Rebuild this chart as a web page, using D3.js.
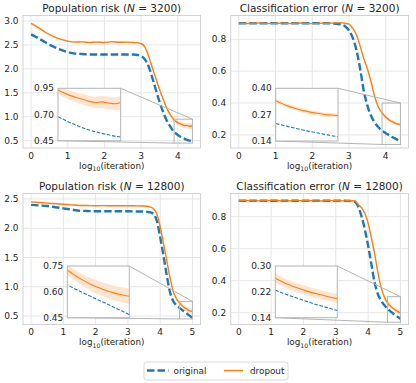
<!DOCTYPE html>
<html>
<head>
<meta charset="utf-8">
<script src="https://cdn.jsdelivr.net/npm/d3@7"></script>
<style>
  body { margin: 0; background: #fff; }
  text { font-family: "DejaVu Sans", sans-serif; fill: #262626; }
</style>
</head>
<body>
<div id="chart"></div>
<script>
// log10(iteration) grids
var xTop = [0, 0.2, 0.4, 0.6, 0.8, 1.0, 1.2, 1.4, 1.6, 1.8, 2.0, 2.2, 2.4, 2.6, 2.8,
  2.9, 3.0, 3.1, 3.2, 3.3, 3.4, 3.5, 3.6, 3.7, 3.8, 3.9,
  3.95, 4.0, 4.05, 4.1, 4.15, 4.2, 4.25, 4.3, 4.35, 4.4];
var xBottom = [0, 0.25, 0.5, 0.75, 1.0, 1.25, 1.5, 1.75, 2.0, 2.25, 2.5, 2.75, 3.0, 3.25, 3.5,
  3.6, 3.7, 3.8, 3.9, 4.0, 4.1, 4.2, 4.3, 4.4, 4.5, 4.6,
  4.65, 4.7, 4.75, 4.8, 4.85, 4.9, 4.95, 5.0];

// N = 3200
var riskOrig3200 = [2.72, 2.64, 2.55, 2.47, 2.40, 2.35, 2.32, 2.31, 2.30, 2.30, 2.30, 2.30, 2.30, 2.30, 2.30,
  2.29, 2.27, 2.20, 2.06, 1.83, 1.57, 1.32, 1.10, 0.92, 0.79, 0.68,
  0.65, 0.62, 0.595, 0.572, 0.552, 0.535, 0.52, 0.506, 0.494, 0.485];
var riskDrop3200 = [2.95, 2.86, 2.76, 2.68, 2.62, 2.58, 2.56, 2.565, 2.55, 2.56, 2.55, 2.57, 2.555, 2.56, 2.55,
  2.545, 2.53, 2.46, 2.28, 2.04, 1.81, 1.58, 1.37, 1.18, 1.04, 0.935,
  0.905, 0.88, 0.86, 0.845, 0.825, 0.815, 0.82, 0.81, 0.803, 0.812];
var riskBand3200 = [0.02, 0.02, 0.015, 0.015, 0.015, 0.015, 0.015, 0.015, 0.015, 0.015, 0.015, 0.015, 0.015, 0.015, 0.015,
  0.015, 0.015, 0.02, 0.02, 0.025, 0.025, 0.03, 0.03, 0.035, 0.035, 0.04,
  0.042, 0.045, 0.047, 0.05, 0.052, 0.055, 0.057, 0.06, 0.062, 0.065];
var errOrig3200 = [0.9, 0.9, 0.9, 0.9, 0.9, 0.9, 0.9, 0.9, 0.9, 0.9, 0.9, 0.9, 0.9, 0.898, 0.892,
  0.88, 0.855, 0.81, 0.735, 0.62, 0.48, 0.385, 0.32, 0.278, 0.248, 0.227,
  0.219, 0.211, 0.204, 0.197, 0.19, 0.184, 0.178, 0.172, 0.166, 0.161];
var errDrop3200 = [0.901, 0.899, 0.9, 0.902, 0.899, 0.9, 0.901, 0.899, 0.902, 0.9, 0.898, 0.901, 0.9, 0.902, 0.904,
  0.899, 0.895, 0.87, 0.83, 0.76, 0.68, 0.615, 0.535, 0.44, 0.375, 0.338,
  0.325, 0.312, 0.302, 0.293, 0.286, 0.28, 0.276, 0.27, 0.268, 0.265];
var errBand3200 = [0.003, 0.003, 0.003, 0.003, 0.003, 0.003, 0.003, 0.003, 0.003, 0.003, 0.003, 0.003, 0.003, 0.003, 0.003,
  0.004, 0.004, 0.005, 0.006, 0.007, 0.008, 0.008, 0.009, 0.009, 0.01, 0.01,
  0.01, 0.01, 0.01, 0.01, 0.01, 0.01, 0.01, 0.01, 0.01, 0.01];

// N = 12800
var riskOrig12800 = [2.40, 2.39, 2.38, 2.36, 2.34, 2.32, 2.30, 2.295, 2.29, 2.29, 2.29, 2.29, 2.29, 2.287, 2.285,
  2.28, 2.27, 2.24, 2.12, 1.85, 1.54, 1.21, 0.92, 0.76, 0.685, 0.64,
  0.617, 0.595, 0.574, 0.553, 0.532, 0.511, 0.49, 0.468];
var riskDrop12800 = [2.45, 2.44, 2.43, 2.42, 2.41, 2.40, 2.39, 2.388, 2.385, 2.386, 2.384, 2.385, 2.385, 2.383, 2.38,
  2.375, 2.36, 2.33, 2.24, 2.03, 1.75, 1.46, 1.17, 0.93, 0.80, 0.727,
  0.695, 0.668, 0.644, 0.625, 0.608, 0.594, 0.583, 0.574];
var riskBand12800 = [0.01, 0.01, 0.01, 0.01, 0.01, 0.01, 0.01, 0.01, 0.01, 0.01, 0.01, 0.01, 0.01, 0.01, 0.01,
  0.01, 0.012, 0.014, 0.016, 0.018, 0.02, 0.022, 0.024, 0.026, 0.028, 0.03,
  0.032, 0.034, 0.036, 0.038, 0.04, 0.042, 0.044, 0.045];
var errOrig12800 = [0.9, 0.9, 0.9, 0.9, 0.9, 0.9, 0.9, 0.9, 0.9, 0.9, 0.9, 0.9, 0.9, 0.9, 0.899,
  0.892, 0.86, 0.80, 0.72, 0.62, 0.505, 0.39, 0.318, 0.276, 0.248, 0.225,
  0.216, 0.207, 0.199, 0.191, 0.183, 0.176, 0.169, 0.162];
var errDrop12800 = [0.9, 0.901, 0.899, 0.9, 0.902, 0.9, 0.899, 0.901, 0.9, 0.9, 0.898, 0.901, 0.9, 0.899, 0.9,
  0.898, 0.875, 0.855, 0.82, 0.76, 0.67, 0.57, 0.455, 0.36, 0.30, 0.262,
  0.25, 0.24, 0.231, 0.223, 0.216, 0.21, 0.204, 0.199];
var errBand12800 = [0.003, 0.003, 0.003, 0.003, 0.003, 0.003, 0.003, 0.003, 0.003, 0.003, 0.003, 0.003, 0.003, 0.003, 0.003,
  0.004, 0.005, 0.006, 0.007, 0.008, 0.009, 0.01, 0.011, 0.012, 0.013, 0.014,
  0.014, 0.014, 0.014, 0.014, 0.014, 0.014, 0.014, 0.014];

// ticks
var iterTicksTop = [0, 1, 2, 3, 4];
var iterTicksBottom = [0, 1, 2, 3, 4, 5];
var riskTicks3200 = [0.5, 1.0, 1.5, 2.0, 2.5, 3.0];
var riskTicks12800 = [0.5, 1.0, 1.5, 2.0, 2.5];
var errTicks = [0.2, 0.4, 0.6, 0.8];
var insetRisk3200 = [0.45, 0.70, 0.95];
var insetErr3200 = [0.14, 0.27, 0.40];
var insetRisk12800 = [0.45, 0.60, 0.75];
var insetErr12800 = [0.14, 0.22, 0.30];
var zoomTop = [3.9, 4.4];
var zoomBottom = [4.6, 5.0];

var seriesNames = ["original", "dropout"];
var blue = "#1f77b4", orange = "#ff7f0e";

(function(){
    var width = 416,
        height = 383;

    var svg = d3.select("#chart")
      .append("svg")
      .attr("width", width)
      .attr("height", height)

    var panels = [
      {title: "Population risk", n: "3200", xs: xTop, orig: riskOrig3200, drop: riskDrop3200, band: riskBand3200,
       box: [23, 200.5, 15.5, 148], xdom: [-0.22, 4.62], ydom: [0.348, 3.115],
       xticks: iterTicksTop, yticks: riskTicks3200, fmt: ".1f",
       inset: [58, 120.7, 88.3, 140.7], zx: zoomTop, zy: insetRisk3200},
      {title: "Classification error", n: "3200", xs: xTop, orig: errOrig3200, drop: errDrop3200, band: errBand3200,
       box: [230.7, 408.5, 15.5, 148], xdom: [-0.22, 4.62], ydom: [0.118, 0.949],
       xticks: iterTicksTop, yticks: errTicks, fmt: ".1f",
       inset: [275.7, 338, 88.3, 141], zx: zoomTop, zy: insetErr3200},
      {title: "Population risk", n: "12800", xs: xBottom, orig: riskOrig12800, drop: riskDrop12800, band: riskBand12800,
       box: [23, 200.5, 193.5, 324.5], xdom: [-0.25, 5.25], ydom: [0.355, 2.594],
       xticks: iterTicksBottom, yticks: riskTicks12800, fmt: ".1f",
       inset: [67.3, 129.3, 266, 317.7], zx: zoomBottom, zy: insetRisk12800},
      {title: "Classification error", n: "12800", xs: xBottom, orig: errOrig12800, drop: errDrop12800, band: errBand12800,
       box: [230.7, 408.5, 193.5, 324.5], xdom: [-0.25, 5.25], ydom: [0.126, 0.945],
       xticks: iterTicksBottom, yticks: errTicks, fmt: ".1f",
       inset: [275.3, 337.3, 266, 317.7], zx: zoomBottom, zy: insetErr12800}
    ];

    function rows(p){
      return p.xs.map(function(v, i){
        return {x: v, o: p.orig[i], d: p.drop[i], s: p.band[i]}
      })
    }

    function curves(g, data, x, y, clipId, thin){
      var orig = d3.line().x(function(d){ return x(d.x) }).y(function(d){ return y(d.o) }).curve(d3.curveMonotoneX)
      var drop = d3.line().x(function(d){ return x(d.x) }).y(function(d){ return y(d.d) }).curve(d3.curveMonotoneX)
      var band = d3.area().x(function(d){ return x(d.x) })
        .y0(function(d){ return y(d.d - d.s) })
        .y1(function(d){ return y(d.d + d.s) })
        .curve(d3.curveMonotoneX)
      var c = g.append("g").attr("clip-path", "url(#" + clipId + ")")
      c.append("path").datum(data).attr("d", band)
        .attr("fill", orange).attr("fill-opacity", 0.2)
      c.append("path").datum(data).attr("d", orig)
        .attr("fill", "none").attr("stroke", blue)
        .attr("stroke-width", thin ? 1.1 : 2.4)
        .attr("stroke-dasharray", thin ? "3.6,1.6" : "7.5,3")
      c.append("path").datum(data).attr("d", drop)
        .attr("fill", "none").attr("stroke", orange)
        .attr("stroke-width", thin ? 1.1 : 1.4)
    }

    panels.forEach(function(p, k){
      var g = svg.append("g")
      var L = p.box[0], R = p.box[1], T = p.box[2], B = p.box[3]
      var x = d3.scaleLinear().domain(p.xdom).range([L, R])
      var y = d3.scaleLinear().domain(p.ydom).range([B, T])
      var fmt = d3.format(p.fmt)
      var data = rows(p)

      svg.append("clipPath").attr("id", "main" + k)
        .append("rect").attr("x", L).attr("y", T).attr("width", R - L).attr("height", B - T)

      // grid
      g.selectAll(".gx").data(p.xticks).enter().append("line")
        .attr("x1", function(d){ return x(d) }).attr("x2", function(d){ return x(d) })
        .attr("y1", T).attr("y2", B)
        .attr("stroke", "#e6e6e6").attr("stroke-width", 1)
      g.selectAll(".gy").data(p.yticks).enter().append("line")
        .attr("y1", function(d){ return y(d) }).attr("y2", function(d){ return y(d) })
        .attr("x1", L).attr("x2", R)
        .attr("stroke", "#e6e6e6").attr("stroke-width", 1)

      // tick labels
      g.selectAll(".tx").data(p.xticks).enter().append("text")
        .attr("x", function(d){ return x(d) }).attr("y", B + 10.5)
        .attr("text-anchor", "middle").attr("font-size", 9)
        .text(function(d){ return d })
      g.selectAll(".ty").data(p.yticks).enter().append("text")
        .attr("x", L - 4.5).attr("y", function(d){ return y(d) }).attr("dy", "0.35em")
        .attr("text-anchor", "end").attr("font-size", 9)
        .text(function(d){ return fmt(d) })

      // title
      var t = g.append("text").attr("x", (L + R) / 2).attr("y", T - 3.5)
        .attr("text-anchor", "middle").attr("font-size", 10.5)
      t.append("tspan").text(p.title + " (")
      t.append("tspan").attr("font-style", "italic").text("N")
      t.append("tspan").text(" = " + p.n + ")")

      // x label
      var xl = g.append("text").attr("x", (L + R) / 2).attr("y", B + 20.5)
        .attr("text-anchor", "middle").attr("font-size", 8.8)
      xl.append("tspan").text("log")
      xl.append("tspan").attr("font-size", 6.2).attr("dy", 2.5).text("10")
      xl.append("tspan").attr("dy", -2.5).text("(iteration)")

      curves(g, data, x, y, "main" + k, false)

      // frame
      g.append("rect").attr("x", L).attr("y", T).attr("width", R - L).attr("height", B - T)
        .attr("fill", "none").attr("stroke", "#d2d2d2").attr("stroke-width", 1)

      // zoom box and connectors
      var zy = d3.extent(p.zy)
      var bx0 = x(p.zx[0]), bx1 = x(p.zx[1]), by0 = y(zy[1]), by1 = y(zy[0])
      var iL = p.inset[0], iR = p.inset[1], iT = p.inset[2], iB = p.inset[3]
      g.append("rect").attr("x", bx0).attr("y", by0).attr("width", bx1 - bx0).attr("height", by1 - by0)
        .attr("fill", "none").attr("stroke", "#b4b4b4").attr("stroke-width", 1)
      g.append("line").attr("x1", iR).attr("y1", iT).attr("x2", bx1).attr("y2", by0)
        .attr("stroke", "#b4b4b4").attr("stroke-width", 1)
      g.append("line").attr("x1", iL).attr("y1", iB).attr("x2", bx0).attr("y2", by1)
        .attr("stroke", "#b4b4b4").attr("stroke-width", 1)

      // inset
      var ix = d3.scaleLinear().domain(p.zx).range([iL, iR])
      var iy = d3.scaleLinear().domain(zy).range([iB, iT])
      svg.append("clipPath").attr("id", "inset" + k)
        .append("rect").attr("x", iL).attr("y", iT).attr("width", iR - iL).attr("height", iB - iT)
      g.append("rect").attr("x", iL).attr("y", iT).attr("width", iR - iL).attr("height", iB - iT)
        .attr("fill", "#fff")
      curves(g, data, ix, iy, "inset" + k, true)
      g.append("rect").attr("x", iL).attr("y", iT).attr("width", iR - iL).attr("height", iB - iT)
        .attr("fill", "none").attr("stroke", "#b4b4b4").attr("stroke-width", 1)
      g.selectAll(".iy").data(p.zy).enter().append("text")
        .attr("x", iL - 4).attr("y", function(d){ return iy(d) }).attr("dy", "0.35em")
        .attr("text-anchor", "end").attr("font-size", 9)
        .text(function(d){ return d3.format(".2f")(d) })
    })

    // legend
    var lg = svg.append("g")
    lg.append("rect").attr("x", 144).attr("y", 362).attr("width", 144).attr("height", 18).attr("rx", 2.5)
      .attr("fill", "#fff").attr("stroke", "#d0d0d0").attr("stroke-width", 0.8)
    var items = [{x: 147, w: 21.5, c: blue, dash: "7.5,3", sw: 2.4, tx: 173.5},
                 {x: 224, w: 19, c: orange, dash: null, sw: 1.4, tx: 250}]
    items.forEach(function(it, i){
      lg.append("line").attr("x1", it.x).attr("x2", it.x + it.w).attr("y1", 370.5).attr("y2", 370.5)
        .attr("stroke", it.c).attr("stroke-width", it.sw).attr("stroke-dasharray", it.dash)
      lg.append("text").attr("x", it.tx).attr("y", 373.8).attr("font-size", 8.8)
        .text(seriesNames[i])
    })
})();
</script>
</body>
</html>
